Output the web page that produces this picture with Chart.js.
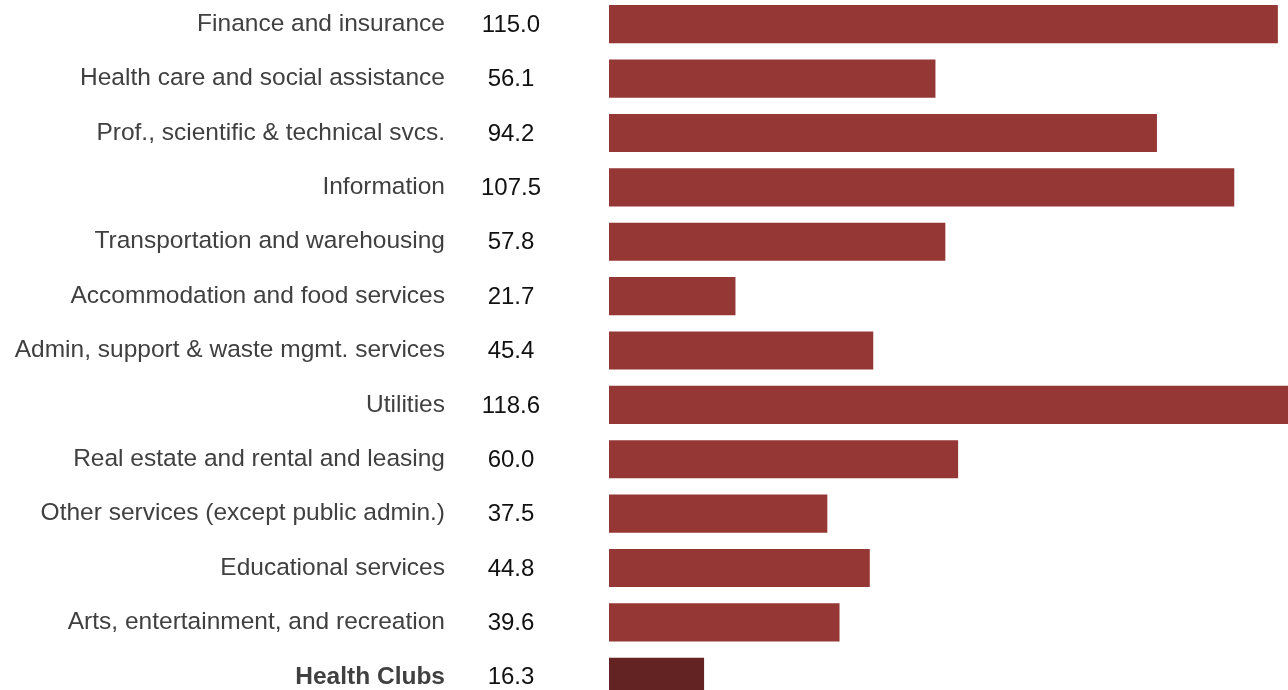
<!DOCTYPE html>
<html>
<head>
<meta charset="utf-8">
<script src="https://cdn.jsdelivr.net/npm/chart.js@4/dist/chart.umd.min.js"></script>
<style>
	html, body { margin: 0; padding: 0; background: #fff; overflow: hidden; width: 1288px; height: 690px; }
	#industryChart { position: absolute; left: 0; top: -3px; }
</style>
</head>
<body>
<canvas id="industryChart" width="1288" height="707"></canvas>
<script>
const industries = [
	'Finance and insurance',
	'Health care and social assistance',
	'Prof., scientific & technical svcs.',
	'Information',
	'Transportation and warehousing',
	'Accommodation and food services',
	'Admin, support & waste mgmt. services',
	'Utilities',
	'Real estate and rental and leasing',
	'Other services (except public admin.)',
	'Educational services',
	'Arts, entertainment, and recreation',
	'Health Clubs'
];
const values = [115.0, 56.1, 94.2, 107.5, 57.8, 21.7, 45.4, 118.6, 60.0, 37.5, 44.8, 39.6, 16.3];
const barColors = [
	'#943735', '#943735', '#943735', '#943735', '#943735', '#943735', '#943735',
	'#943735', '#943735', '#943735', '#943735', '#943735', '#632323'
];

const FONT = "'Liberation Sans', Arial, sans-serif";

// value column drawn between the labels and the bars
const valueColumn = {
	id: 'valueColumn',
	afterDraw: (chart) => {
		const ctx = chart.ctx;
		const yScale = chart.scales.y;
		ctx.save();
		ctx.font = '24px ' + FONT;
		ctx.fillStyle = '#111111';
		ctx.textAlign = 'center';
		ctx.textBaseline = 'middle';
		values.forEach((v, i) => {
			ctx.fillText(v.toFixed(1), 511, yScale.getPixelForValue(i) + 1);
		});
		ctx.restore();
	}
};

const industryChart = document.getElementById('industryChart');
new Chart(industryChart, {
	type: 'bar',
	data: {
		labels: industries,
		datasets: [
			{
				data: values,
				backgroundColor: barColors,
				borderWidth: 0,
				barThickness: 37.5,
			},
		],
	},
	options: {
		indexAxis: 'y',
		responsive: false,
		animation: false,
		layout: { padding: 0 },
		plugins: {
			legend: { display: false },
			title: { display: false },
			tooltip: { enabled: false },
		},
		scales: {
			x: {
				display: false,
				min: 0,
				max: 116.8,
			},
			y: {
				grid: { display: false, drawTicks: false },
				border: { display: false },
				afterFit: (scale) => {
					scale.width = 609;
					// tick padding is used for the gap to the bars only
					scale.paddingTop = 0;
					scale.paddingBottom = 0;
				},
				ticks: {
					padding: 164,
					color: '#404040',
					font: (c) => ({
						family: FONT,
						size: 24.5,
						weight: c.index === industries.length - 1 ? 'bold' : 'normal',
					}),
				},
			},
		},
	},
	plugins: [valueColumn],
});
</script>
</body>
</html>
